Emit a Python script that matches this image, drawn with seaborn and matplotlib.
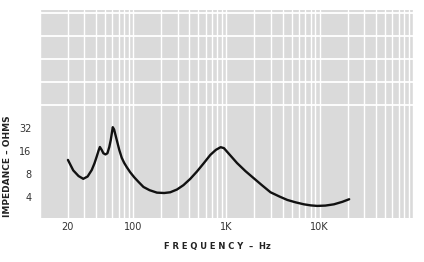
import numpy as np
import pandas as pd
import matplotlib
matplotlib.use("Agg")
import matplotlib.pyplot as plt
import matplotlib.ticker as mticker
import seaborn as sns

freq_hz = [20, 22.8, 26, 29.2, 32.5, 36, 38.5, 40.7, 42.5, 44, 46, 48, 50.5, 53, 55.5, 57.6, 59.3, 60.5, 62.5, 66.7, 71, 75.5, 80, 85.5, 93, 103, 114, 129, 150, 180, 215, 250, 295, 346, 410, 483, 570, 673, 770, 867, 940, 1105, 1300, 1600, 1970, 2400, 2970, 3700, 4500, 5500, 6780, 8000, 9400, 11500, 14200, 17500, 20700]
impedance_ohms = [12.2, 8.9, 7.5, 6.9, 7.4, 9.0, 11.0, 13.5, 16.0, 18.0, 16.5, 14.9, 14.4, 14.9, 18.0, 22.3, 28.0, 32.7, 30.5, 22.3, 16.5, 13.0, 11.2, 9.8, 8.4, 7.2, 6.3, 5.4, 4.9, 4.55, 4.5, 4.6, 5.0, 5.7, 6.9, 8.6, 11.0, 14.2, 16.5, 17.9, 17.4, 13.9, 11.1, 8.7, 7.0, 5.7, 4.6, 4.05, 3.65, 3.4, 3.2, 3.1, 3.05, 3.08, 3.2, 3.45, 3.73]

x_ticks = [20, 100, 1000, 10000]
x_tick_labels = ["20", "100", "1K", "10K"]
y_ticks = [4, 8, 16, 32]
y_tick_labels = ["4", "8", "16", "32"]

sns.set_theme(style="whitegrid")
plt.rcParams['font.family'] = ['DejaVu Sans']

df = pd.DataFrame({"freq": freq_hz, "imp": impedance_ohms})

fig = plt.figure(figsize=(4.24, 2.62), dpi=100)
fig.patch.set_facecolor("white")
ax = fig.add_axes([0.094, 0.168, 0.880, 0.794])
ax.set_facecolor("#dadada")

sns.lineplot(data=df, x="freq", y="imp", ax=ax, color="#111111", linewidth=1.7, sort=False)
for line in ax.get_lines():
    line.set_solid_joinstyle("round")
    line.set_solid_capstyle("round")

ax.set_xscale("log")
ax.set_yscale("log", base=2)
ax.set_xlim(10, 100000)
ax.set_ylim(2.12, 1119)

ax.xaxis.set_major_locator(mticker.FixedLocator(x_ticks))
ax.xaxis.set_major_formatter(mticker.FixedFormatter(x_tick_labels))
ax.xaxis.set_minor_locator(mticker.LogLocator(base=10, subs=np.arange(1, 10), numticks=20))
ax.xaxis.set_minor_formatter(mticker.NullFormatter())
ax.yaxis.set_major_locator(mticker.FixedLocator(y_ticks))
ax.yaxis.set_major_formatter(mticker.FixedFormatter(y_tick_labels))
ax.yaxis.set_minor_locator(mticker.FixedLocator([2, 4, 8, 16, 32, 64, 128, 256, 512, 1024]))
ax.yaxis.set_minor_formatter(mticker.NullFormatter())

ax.grid(False)
ax.grid(which="both", axis="x", color="white", linewidth=1.0)
ax.grid(which="minor", axis="y", color="white", linewidth=1.3)
for s in ax.spines.values():
    s.set_visible(False)
ax.tick_params(axis="both", which="both", length=0, labelsize=7, colors="#333333")
ax.tick_params(axis="x", pad=3)
ax.tick_params(axis="y", pad=6)

ax.set_xlabel("F R E Q U E N C Y  –  Hz", fontsize=6, color="#222222", fontweight="bold")
ax.xaxis.set_label_coords(0.475, -0.115)
ax.set_ylabel("IMPEDANCE – OHMS", fontsize=6.5, color="#222222", fontweight="bold")
ax.yaxis.set_label_coords(-0.075, 0.25)

fig.savefig("out.png", dpi=100, facecolor="white")
